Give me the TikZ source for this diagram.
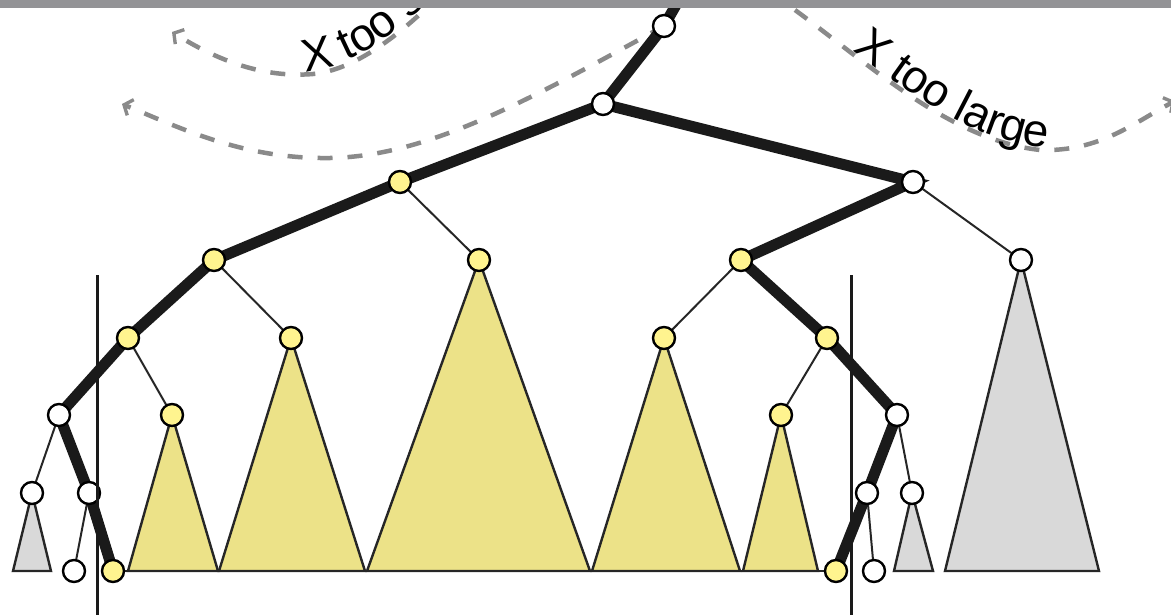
\documentclass[tikz,border=0pt]{standalone}
\usepackage{fontspec}
\setmainfont{Liberation Sans}
\usetikzlibrary{arrows.meta,decorations.text}
\pgfdeclarelayer{bg}
\pgfsetlayers{bg,main}
\definecolor{nyel}{HTML}{FFF48F}
\definecolor{tyel}{HTML}{ECE288}
\definecolor{tgray}{HTML}{D9D9D9}
\definecolor{bandgray}{HTML}{939396}
\definecolor{dashgray}{HTML}{8A8A8A}
\definecolor{edgeblack}{HTML}{1A1A1A}
\begin{document}
\begin{tikzpicture}[x=1pt,y=-1pt,
  wn/.style={circle,draw=black,fill=white,line width=2.4pt,minimum size=22pt,inner sep=0pt},
  yn/.style={wn,fill=nyel},
  hot/.style={line width=11pt,draw=edgeblack},
  cold/.style={line width=2pt,draw=black!85},
  tri/.style={draw=black!85,line width=2.4pt,line join=miter},
  ret/.style={draw=dashgray,line width=4.5pt,dash pattern=on 15pt off 15pt,-{Straight Barb[length=7pt,width=17pt,line width=3.4pt]}},
  labpath/.style={decorate,decoration={text along path,raise=3pt,
     text={|\fontsize{46}{46}\selectfont|#1}}}]
\useasboundingbox (0,0) rectangle (1171,615);
% nodes
\node[wn] (r) at (664,26) {};
\node[wn] (a) at (603,104) {};
\node[yn] (b) at (400,182) {};
\node[wn] (c) at (913,182) {};
\node[yn] (d) at (214,260) {};
\node[yn] (e) at (479,260) {};
\node[yn] (f) at (741,260) {};
\node[wn] (g) at (1021,260) {};
\node[yn] (h) at (128,338) {};
\node[yn] (i) at (291,338) {};
\node[yn] (j) at (664,338) {};
\node[yn] (k) at (827,338) {};
\node[wn] (l) at (59,415) {};
\node[yn] (m) at (172,415) {};
\node[yn] (n) at (781,415) {};
\node[wn] (o) at (897,415) {};
\node[wn] (p) at (32,493) {};
\node[wn] (q) at (89,493) {};
\node[wn] (s) at (867,493) {};
\node[wn] (t) at (912,493) {};
\node[wn] (u) at (74,571) {};
\node[yn] (v) at (113,571) {};
\node[yn] (w) at (836,571) {};
\node[wn] (z) at (874,571) {};
\coordinate (top) at (680,-2);
\begin{pgfonlayer}{bg}
  % triangles
  \filldraw[tri,fill=tyel] (m.center) -- (128,571) -- (218,571) -- cycle;
  \filldraw[tri,fill=tyel] (i.center) -- (219,571) -- (365,571) -- cycle;
  \filldraw[tri,fill=tyel] (e.center) -- (367,571) -- (590,571) -- cycle;
  \filldraw[tri,fill=tyel] (j.center) -- (592,571) -- (740,571) -- cycle;
  \filldraw[tri,fill=tyel] (n.center) -- (743,571) -- (818,571) -- cycle;
  \filldraw[tri,fill=tgray] (g.center) -- (945,571) -- (1099,571) -- cycle;
  \filldraw[tri,fill=tgray] (p.center) -- (13,571) -- (51,571) -- cycle;
  \filldraw[tri,fill=tgray] (t.center) -- (894,571) -- (933,571) -- cycle;
  \draw[line width=2.4pt,draw=black!85] (v.center) -- (w.center);
  % dashed return paths
  \draw[ret] (r.center) .. controls (520,105) and (420,160) .. (320,158)
    .. controls (240,157) and (180,128) .. (122,104);
  \draw[ret] (440,-5) .. controls (400,35) and (355,70) .. (313,74)
    .. controls (265,78) and (220,62) .. (172,32);
  \draw[ret] (795,10) .. controls (870,65) and (950,140) .. (1040,150)
    .. controls (1100,152) and (1135,122) .. (1175,101);
  % thin edges
  \draw[cold] (b.center) -- (e.center);
  \draw[cold] (d.center) -- (i.center);
  \draw[cold] (h.center) -- (m.center);
  \draw[cold] (f.center) -- (j.center);
  \draw[cold] (k.center) -- (n.center);
  \draw[cold] (c.center) -- (g.center);
  \draw[cold] (l.center) -- (p.center);
  \draw[cold] (q.center) -- (u.center);
  \draw[cold] (o.center) -- (t.center);
  \draw[cold] (s.center) -- (z.center);
  % thick search path
  \draw[hot] (top) -- (r.center) -- (a.center) -- (b.center) -- (d.center) -- (h.center)
    -- (l.center) -- (q.center) -- (v.center);
  \draw[hot] (a.center) -- (c.center) -- (f.center) -- (k.center) -- (o.center)
    -- (s.center) -- (w.center);
\end{pgfonlayer}
% labels along the return paths
\path[labpath={X too small}] (306,74) .. controls (355,70) and (400,35) .. (440,-5) -- (500,-70);
\path[labpath={X too large},decoration={text align={left indent=70pt}}]
  (795,10) .. controls (870,65) and (950,140) .. (1040,150)
    .. controls (1100,152) and (1135,122) .. (1175,101);
% boundary lines
\draw[line width=3pt,draw=edgeblack] (97,275) -- (97,615);
\draw[line width=3pt,draw=edgeblack] (851,275) -- (851,615);
% top band
\fill[bandgray] (0,0) rectangle (1171,8);
\end{tikzpicture}
\end{document}
